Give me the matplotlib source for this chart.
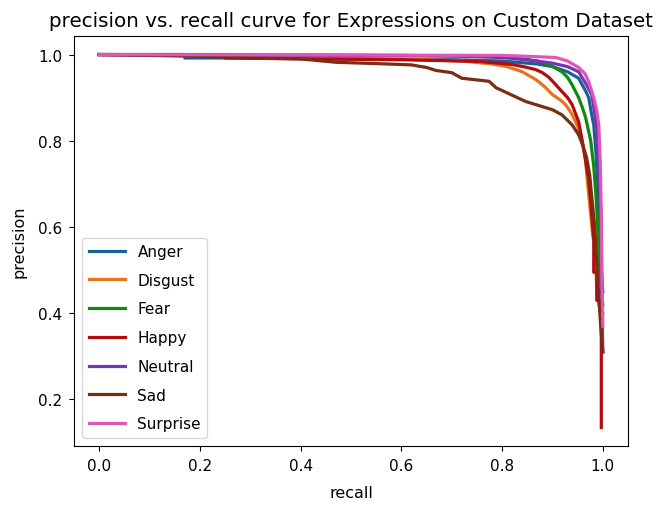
import matplotlib
matplotlib.use("Agg")
import matplotlib.pyplot as plt

labels = ["Anger", "Disgust", "Fear", "Happy", "Neutral", "Sad", "Surprise"]
colors = ["#1a5f96", "#e8731a", "#0f8a0f", "#b30c0c", "#7a33b5", "#7b2d12", "#e055b5"]

anger_r = [0.0, 0.17, 0.17, 0.25, 0.5, 0.7, 0.8, 0.87, 0.9, 0.93, 0.952, 0.966, 0.972, 0.978, 0.982, 0.986, 0.99, 0.994, 0.997, 1.0]
anger_p = [1.0, 1.0, 0.992, 0.992, 0.99, 0.988, 0.985, 0.978, 0.972, 0.96, 0.945, 0.915, 0.9, 0.86, 0.837, 0.78, 0.7, 0.6, 0.5, 0.45]

disgust_r = [0.0, 0.3, 0.5, 0.65, 0.72, 0.78, 0.81, 0.84, 0.867, 0.885, 0.9, 0.915, 0.926, 0.937, 0.946, 0.953, 0.959, 0.965, 0.97, 0.975, 0.98, 0.985, 0.988, 0.992, 1.0]
disgust_p = [1.0, 0.995, 0.99, 0.988, 0.985, 0.978, 0.972, 0.96, 0.942, 0.925, 0.907, 0.895, 0.884, 0.865, 0.844, 0.825, 0.8, 0.76, 0.7, 0.64, 0.58, 0.55, 0.45, 0.42, 0.4]

fear_r = [0.0, 0.6, 0.8, 0.87, 0.893, 0.919, 0.93, 0.939, 0.952, 0.96, 0.966, 0.976, 0.982, 0.986, 0.99, 0.994, 1.0]
fear_p = [1.0, 0.998, 0.995, 0.985, 0.977, 0.96, 0.947, 0.93, 0.9, 0.875, 0.853, 0.8, 0.74, 0.68, 0.6, 0.5, 0.42]

happy_r = [0.0, 0.25, 0.25, 0.4, 0.6, 0.754, 0.82, 0.85, 0.867, 0.88, 0.893, 0.905, 0.919, 0.93, 0.939, 0.952, 0.958, 0.965, 0.972, 0.978, 0.982, 0.982, 0.988, 0.988, 0.997, 0.997]
happy_p = [1.0, 1.0, 0.992, 0.99, 0.988, 0.984, 0.977, 0.97, 0.965, 0.958, 0.947, 0.932, 0.914, 0.9, 0.884, 0.844, 0.807, 0.76, 0.71, 0.63, 0.57, 0.495, 0.495, 0.43, 0.43, 0.135]

neutral_r = [0.0, 0.7, 0.8, 0.85, 0.9, 0.93, 0.952, 0.965, 0.978, 0.983, 0.988, 0.992, 0.995, 0.997, 0.998, 1.0]
neutral_p = [1.0, 0.997, 0.993, 0.988, 0.98, 0.972, 0.96, 0.935, 0.907, 0.87, 0.83, 0.75, 0.66, 0.6, 0.45, 0.31]

sad_r = [0.0, 0.2, 0.3, 0.398, 0.471, 0.55, 0.62, 0.65, 0.669, 0.7, 0.72, 0.774, 0.788, 0.847, 0.9, 0.919, 0.939, 0.952, 0.96, 0.968, 0.974, 0.978, 0.984, 0.988, 0.993, 0.997, 1.0]
sad_p = [1.0, 0.996, 0.992, 0.99, 0.982, 0.979, 0.976, 0.97, 0.963, 0.958, 0.945, 0.938, 0.923, 0.891, 0.872, 0.86, 0.837, 0.814, 0.79, 0.76, 0.72, 0.67, 0.6, 0.52, 0.42, 0.35, 0.31]

surprise_r = [0.0, 0.8, 0.87, 0.907, 0.93, 0.952, 0.965, 0.972, 0.982, 0.988, 0.992, 0.995, 0.997, 0.998, 1.0]
surprise_p = [1.0, 0.998, 0.995, 0.993, 0.985, 0.97, 0.955, 0.937, 0.9, 0.87, 0.837, 0.75, 0.63, 0.5, 0.37]

recalls = [anger_r, disgust_r, fear_r, happy_r, neutral_r, sad_r, surprise_r]
precisions = [anger_p, disgust_p, fear_p, happy_p, neutral_p, sad_p, surprise_p]

fig = plt.figure(figsize=(6.57, 5.06), dpi=100)
ax = fig.add_axes([74/657, 1-447/506, (628-74)/657, (447-37)/506])
for r, p, lab, c in zip(recalls, precisions, labels, colors):
    ax.plot(r, p, color=c, lw=2.3, label=lab)

ax.set_xlim(-0.05, 1.05)
ax.set_ylim(0.092, 1.043)
ax.set_xticks([0.0, 0.2, 0.4, 0.6, 0.8, 1.0])
ax.set_yticks([0.2, 0.4, 0.6, 0.8, 1.0])
ax.tick_params(labelsize=11, pad=5)
ax.set_xlabel("recall", fontsize=11.5, labelpad=9)
ax.set_ylabel("precision", fontsize=11.5, labelpad=8)
ax.set_title("precision vs. recall curve for Expressions on Custom Dataset", fontsize=14.3, pad=7)
ax.legend(loc="lower left", fontsize=11, labelspacing=0.9, handlelength=2.4,
          borderaxespad=0.55)
fig.savefig("out.png", dpi=100)
